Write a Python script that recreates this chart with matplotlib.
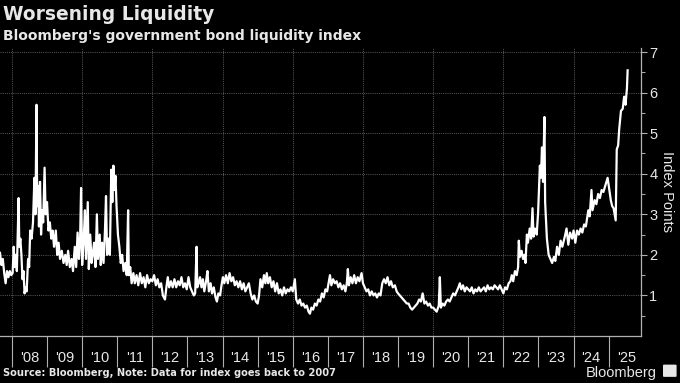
import matplotlib
matplotlib.use("Agg")
import matplotlib.pyplot as plt
from matplotlib.patches import FancyBboxPatch

# data (decimal year, index points)
dates = [
    2007.66, 2007.70, 2007.74, 2007.78, 2007.82, 2007.86, 2007.90, 2007.94,
    2007.98, 2008.02, 2008.05, 2008.08, 2008.11, 2008.14, 2008.19, 2008.21,
    2008.24, 2008.27, 2008.30, 2008.33, 2008.36, 2008.39, 2008.42, 2008.46,
    2008.49, 2008.52, 2008.56, 2008.60, 2008.64, 2008.67, 2008.70, 2008.72,
    2008.75, 2008.77, 2008.80, 2008.83, 2008.86, 2008.89, 2008.93, 2008.96,
    2009.00, 2009.04, 2009.08, 2009.12, 2009.16, 2009.20, 2009.25, 2009.29,
    2009.33, 2009.37, 2009.42, 2009.47, 2009.52, 2009.56, 2009.60, 2009.65,
    2009.70, 2009.74, 2009.79, 2009.83, 2009.87, 2009.91, 2009.94, 2009.97,
    2010.00, 2010.04, 2010.08, 2010.11, 2010.16, 2010.19, 2010.23, 2010.27,
    2010.30, 2010.34, 2010.38, 2010.42, 2010.45, 2010.50, 2010.53, 2010.57,
    2010.61, 2010.65, 2010.68, 2010.71, 2010.75, 2010.79, 2010.83, 2010.86,
    2010.89, 2010.92, 2010.95, 2010.98, 2011.02, 2011.06, 2011.10, 2011.14,
    2011.18, 2011.23, 2011.27, 2011.31, 2011.33, 2011.37, 2011.41, 2011.46,
    2011.50, 2011.55, 2011.60, 2011.65, 2011.70, 2011.75, 2011.80, 2011.85,
    2011.90, 2011.95, 2012.00, 2012.05, 2012.10, 2012.15, 2012.20, 2012.25,
    2012.30, 2012.36, 2012.40, 2012.44, 2012.48, 2012.53, 2012.58, 2012.63,
    2012.68, 2012.73, 2012.78, 2012.83, 2012.88, 2012.93, 2012.98, 2013.03,
    2013.08, 2013.13, 2013.18, 2013.22, 2013.26, 2013.28, 2013.32, 2013.36,
    2013.40, 2013.44, 2013.48, 2013.53, 2013.57, 2013.61, 2013.66, 2013.70,
    2013.75, 2013.80, 2013.84, 2013.88, 2013.93, 2013.97, 2014.01, 2014.05,
    2014.10, 2014.15, 2014.20, 2014.25, 2014.30, 2014.35, 2014.40, 2014.45,
    2014.50, 2014.55, 2014.60, 2014.65, 2014.70, 2014.75, 2014.80, 2014.85,
    2014.90, 2014.95, 2015.00, 2015.04, 2015.08, 2015.13, 2015.18, 2015.22,
    2015.26, 2015.30, 2015.35, 2015.40, 2015.45, 2015.50, 2015.55, 2015.60,
    2015.65, 2015.70, 2015.75, 2015.80, 2015.85, 2015.90, 2015.95, 2016.00,
    2016.06, 2016.10, 2016.15, 2016.20, 2016.25, 2016.30, 2016.35, 2016.40,
    2016.45, 2016.49, 2016.53, 2016.58, 2016.63, 2016.68, 2016.73, 2016.78,
    2016.83, 2016.88, 2016.93, 2016.98, 2017.03, 2017.06, 2017.10, 2017.15,
    2017.20, 2017.25, 2017.30, 2017.35, 2017.40, 2017.45, 2017.50, 2017.54,
    2017.57, 2017.60, 2017.65, 2017.70, 2017.75, 2017.80, 2017.85, 2017.90,
    2017.96, 2018.00, 2018.05, 2018.10, 2018.15, 2018.20, 2018.25, 2018.30,
    2018.35, 2018.40, 2018.45, 2018.50, 2018.55, 2018.60, 2018.65, 2018.70,
    2018.75, 2018.80, 2018.85, 2018.91, 2018.96, 2019.00, 2019.05, 2019.10,
    2019.15, 2019.20, 2019.25, 2019.30, 2019.35, 2019.40, 2019.45, 2019.50,
    2019.55, 2019.60, 2019.65, 2019.70, 2019.75, 2019.80, 2019.85, 2019.90,
    2019.95, 2020.00, 2020.05, 2020.10, 2020.16, 2020.19, 2020.22, 2020.27,
    2020.32, 2020.37, 2020.42, 2020.47, 2020.52, 2020.57, 2020.62, 2020.67,
    2020.72, 2020.76, 2020.80, 2020.85, 2020.90, 2020.95, 2021.00, 2021.05,
    2021.10, 2021.15, 2021.20, 2021.25, 2021.30, 2021.35, 2021.40, 2021.45,
    2021.50, 2021.55, 2021.60, 2021.65, 2021.70, 2021.75, 2021.80, 2021.85,
    2021.90, 2021.95, 2022.00, 2022.05, 2022.10, 2022.15, 2022.20, 2022.24,
    2022.28, 2022.33, 2022.38, 2022.42, 2022.44, 2022.47, 2022.52, 2022.56,
    2022.60, 2022.63, 2022.67, 2022.70, 2022.75, 2022.79, 2022.83, 2022.86,
    2022.90, 2022.95, 2022.99, 2023.04, 2023.07, 2023.10, 2023.13, 2023.17,
    2023.19, 2023.24, 2023.29, 2023.34, 2023.39, 2023.44, 2023.48, 2023.53,
    2023.58, 2023.63, 2023.68, 2023.75, 2023.80, 2023.85, 2023.90, 2023.96,
    2024.00, 2024.05, 2024.10, 2024.15, 2024.20, 2024.25, 2024.30, 2024.35,
    2024.42, 2024.46, 2024.51, 2024.54, 2024.60, 2024.65, 2024.70, 2024.75,
    2024.80, 2024.85, 2024.92, 2024.97, 2025.02, 2025.06, 2025.10, 2025.14,
    2025.20, 2025.23, 2025.27, 2025.30, 2025.35, 2025.40, 2025.44, 2025.48,
    2025.52, 2025.54,
]
index_pts = [
    2.05, 1.75, 1.9, 1.55, 1.3, 1.6, 1.45, 1.6,
    1.5, 1.55, 2.2, 1.7, 2.0, 1.6, 3.4, 2.2,
    2.4, 2.0, 1.4, 1.6, 1.05, 1.2, 1.1, 1.9,
    1.7, 2.6, 2.4, 2.8, 3.9, 3.0, 5.7, 3.2,
    3.7, 2.7, 3.8, 2.5, 3.1, 2.8, 4.15, 3.0,
    3.3, 2.6, 2.8, 2.4, 2.6, 2.2, 2.6, 2.0,
    2.3, 1.9, 2.1, 1.8, 2.0, 1.75, 2.1, 1.7,
    1.9, 1.6, 2.2, 1.7, 2.55, 1.9, 2.3, 3.65,
    1.75, 2.3, 3.1, 1.9, 3.3, 1.65, 2.5, 1.8,
    2.0, 2.3, 1.7, 3.0, 1.9, 2.5, 1.75, 2.3,
    1.8, 2.6, 3.45, 2.0, 2.4, 2.0, 4.1, 3.3,
    4.2, 3.6, 3.95, 3.2, 2.5, 2.2, 1.8, 2.0,
    1.6, 1.8, 1.5, 3.1, 1.5, 1.7, 1.3, 1.55,
    1.3, 1.5, 1.25, 1.55, 1.3, 1.45, 1.2, 1.5,
    1.3, 1.4, 1.35, 1.5, 1.25, 1.4, 1.2, 1.3,
    1.0, 0.9, 1.2, 1.45, 1.2, 1.35, 1.2, 1.4,
    1.2, 1.35, 1.25, 1.45, 1.2, 1.3, 1.15, 1.45,
    1.2, 1.1, 1.0, 1.05, 2.2, 1.2, 1.3, 1.45,
    1.2, 1.4, 1.1, 1.35, 1.6, 1.1, 1.3, 1.05,
    1.2, 0.95, 0.85, 1.05, 1.0, 1.25, 1.45, 1.3,
    1.5, 1.3, 1.55, 1.35, 1.45, 1.25, 1.35, 1.2,
    1.35, 1.15, 1.3, 1.1, 1.2, 1.3, 1.05, 0.9,
    1.0, 0.85, 0.8, 1.0, 1.4, 1.2, 1.5, 1.3,
    1.55, 1.3, 1.45, 1.2, 1.35, 1.1, 1.3, 1.05,
    1.15, 1.0, 1.2, 1.05, 1.15, 1.1, 1.2, 1.1,
    1.4, 0.9, 0.8, 0.9, 0.75, 0.8, 0.7, 0.75,
    0.6, 0.55, 0.7, 0.65, 0.8, 0.75, 0.9, 0.85,
    1.05, 0.95, 1.15, 1.1, 1.35, 1.5, 1.25, 1.4,
    1.3, 1.35, 1.2, 1.3, 1.15, 1.25, 1.1, 1.3,
    1.65, 1.25, 1.45, 1.3, 1.5, 1.3, 1.45, 1.35,
    1.55, 1.3, 1.2, 1.1, 1.15, 1.0, 1.1, 1.0,
    1.05, 0.95, 1.05, 1.0, 1.3, 1.4, 1.3, 1.45,
    1.25, 1.35, 1.2, 1.25, 1.1, 1.05, 1.0, 0.95,
    0.9, 0.85, 0.8, 0.8, 0.7, 0.65, 0.7, 0.75,
    0.8, 0.9, 0.85, 1.05, 0.8, 0.85, 0.75, 0.8,
    0.7, 0.7, 0.65, 0.6, 0.75, 1.45, 0.7, 0.8,
    0.75, 0.85, 0.9, 0.85, 0.95, 1.05, 1.0, 1.1,
    1.2, 1.3, 1.15, 1.25, 1.1, 1.2, 1.15, 1.1,
    1.2, 1.05, 1.15, 1.1, 1.2, 1.1, 1.15, 1.2,
    1.1, 1.25, 1.15, 1.2, 1.15, 1.25, 1.2, 1.15,
    1.25, 1.15, 1.05, 1.2, 1.15, 1.3, 1.35, 1.5,
    1.35, 1.6, 1.5, 1.7, 2.35, 1.95, 2.1, 1.9,
    2.0, 1.8, 2.5, 2.3, 2.65, 2.4, 3.15, 2.45,
    2.65, 2.5, 3.05, 4.2, 3.9, 4.65, 3.8, 5.4,
    3.3, 2.4, 2.0, 1.9, 1.8, 1.95, 1.85, 2.2,
    2.0, 2.35, 2.2, 2.45, 2.65, 2.25, 2.55, 2.4,
    2.6, 2.3, 2.6, 2.5, 2.65, 2.55, 2.75, 2.7,
    3.1, 2.95, 3.6, 3.1, 3.35, 3.25, 3.5, 3.4,
    3.6, 3.55, 3.75, 3.9, 3.6, 3.35, 3.2, 3.15,
    2.85, 4.6, 4.7, 5.1, 5.55, 5.6, 5.9, 5.7,
    6.1, 6.55,
]

years = list(range(2008, 2026))
year_labels = ["'%02d" % (y % 100) for y in years]
y_ticks = [1, 2, 3, 4, 5, 6, 7]

BG = "#000000"
FG = "#e8e8e8"
GRID = "#5a5a5a"
AXIS = "#b0b0b0"


def plot_liquidity():
    """Bloomberg style chart of the government bond liquidity index"""
    fig = plt.figure(figsize=(6.8, 3.83), dpi=100, facecolor=BG)
    ax = fig.add_axes([0.0, 0.1227, 0.9426, 0.7520], facecolor=BG)

    # grid
    for y in y_ticks:
        ax.axhline(y, color=GRID, lw=0.7, ls=(0, (1, 1.2)), zorder=1)
    for yr in years[::2]:
        ax.axvline(yr, color=GRID, lw=0.7, ls=(0, (1, 1.2)), zorder=1)

    # series
    ax.plot(dates, index_pts, color="white", lw=1.6, zorder=3)

    ax.set_xlim(2007.66, 2025.92)
    ax.set_ylim(0, 7.1)

    # spines
    for side in ["top", "left"]:
        ax.spines[side].set_visible(False)
    for side in ["bottom", "right"]:
        ax.spines[side].set_color(AXIS)
        ax.spines[side].set_linewidth(0.9)

    # x axis: year separators, labels centred in each year
    ax.set_xticks(years)
    ax.set_xticklabels([])
    ax.set_xticks([y + 0.5 for y in years], minor=True)
    ax.set_xticklabels(year_labels, minor=True, fontsize=10.5,
                       family="Liberation Sans", color=FG)
    ax.tick_params(axis="x", which="major", length=22, width=0.8,
                   color=AXIS, direction="out")
    ax.tick_params(axis="x", which="minor", length=0, pad=11)

    # y axis on the right
    ax.yaxis.tick_right()
    ax.yaxis.set_label_position("right")
    ax.set_yticks(y_ticks)
    ax.set_yticklabels([str(v) for v in y_ticks], fontsize=10.5,
                       family="Liberation Sans", color=FG)
    ax.set_yticks([v - 0.5 for v in y_ticks], minor=True)
    ax.tick_params(axis="y", which="major", length=4, width=0.8,
                   color=AXIS, pad=2)
    ax.tick_params(axis="y", which="minor", length=3, width=0.7,
                   color=AXIS)
    ax.set_ylabel("Index Points", rotation=270, fontsize=10.5,
                  family="Liberation Sans", color=FG, labelpad=12)

    # titles and footer
    fig.text(0.004, 0.988, "Worsening Liquidity", color=FG, fontsize=13.4,
             fontweight="bold", va="top", ha="left")
    fig.text(0.004, 0.925, "Bloomberg's government bond liquidity index",
             color=FG, fontsize=10, fontweight="bold", va="top", ha="left")
    fig.text(0.004, 0.012, "Source: Bloomberg, Note: Data for index goes back to 2007",
             color=FG, fontsize=7.1, fontweight="bold", va="bottom", ha="left")
    fig.text(0.966, 0.008, "Bloomberg", color=FG, fontsize=10.5,
             family="Liberation Sans", va="bottom", ha="right")
    fig.patches.append(FancyBboxPatch((0.977, 0.018), 0.016, 0.028,
                                      boxstyle="round,pad=0.002",
                                      transform=fig.transFigure,
                                      facecolor=FG, edgecolor="none"))

    fig.savefig("out.png", dpi=100, facecolor=BG)


def main():
    plot_liquidity()


if __name__ == "__main__":
    main()
